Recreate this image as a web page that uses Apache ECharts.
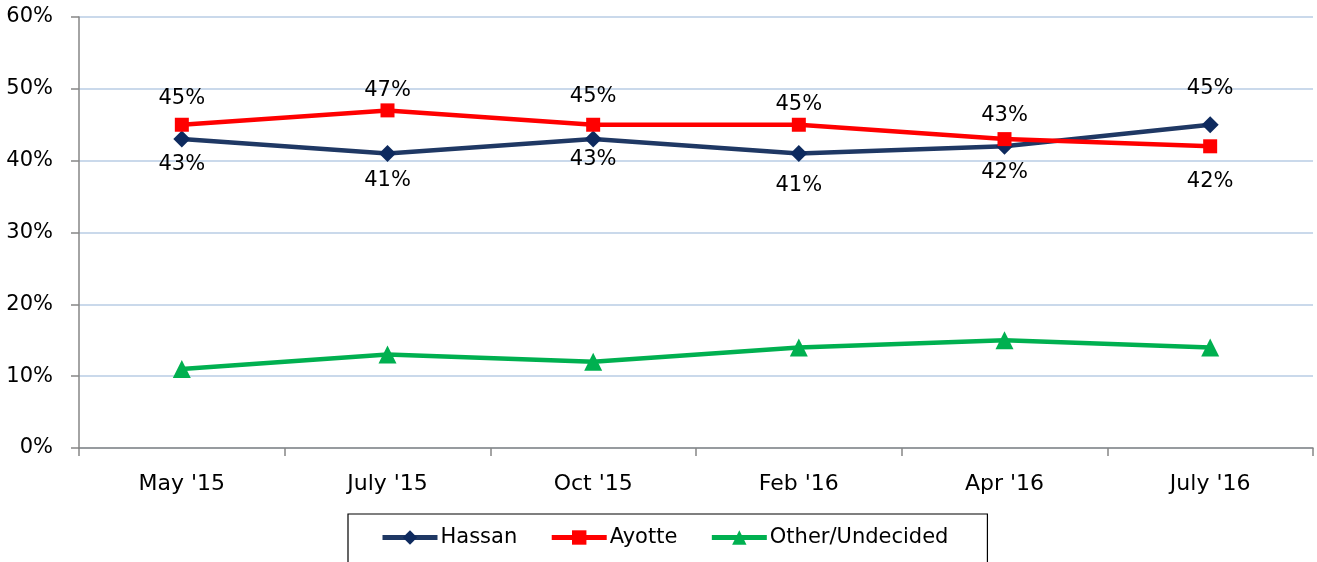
<!DOCTYPE html>
<html>
<head>
<meta charset="utf-8">
<script src="https://cdn.jsdelivr.net/npm/echarts@6/dist/echarts.min.js"></script>
<style>
  html, body { margin: 0; padding: 0; background: #fff; }
  #chart { width: 1317px; height: 562px; }
</style>
</head>
<body>
<div id="chart"></div>
<script>
// poll dates
const categories = ["May '15", "July '15", "Oct '15", "Feb '16", "Apr '16", "July '16"];

// values in percent
const hassan = [43, 41, 43, 41, 42, 45];
const ayotte = [45, 47, 45, 45, 43, 42];
const other = [11, 13, 12, 14, 15, 14];

const yTicks = [0, 10, 20, 30, 40, 50, 60];

const FONT = "DejaVu Sans";

// label placement per point (above/below) and gap from the marker
const hassanPos = ["bottom", "bottom", "bottom", "bottom", "bottom", "top"];
const hassanGap = [6, 8, 1, 13, 7, 17];
const ayottePos = ["top", "top", "top", "top", "top", "bottom"];
const ayotteGap = [9, 2, 11, 3, 6, 18];

const withLabels = (vals, pos, gap) =>
  vals.map((v, i) => ({
    value: v,
    label: { show: true, position: pos[i], distance: gap[i] },
  }));

const chart = echarts.init(document.getElementById("chart"));

chart.setOption({
  animation: false,
  textStyle: { fontFamily: FONT },
  grid: { left: 79, right: 4, top: 17, bottom: 114 },
  xAxis: {
    type: "category",
    data: categories,
    boundaryGap: true,
    axisLine: { lineStyle: { color: "#868686", width: 1.5 } },
    axisTick: { show: true, length: 8, lineStyle: { color: "#868686", width: 1.5 } },
    axisLabel: { color: "#000", fontSize: 22, margin: 25, fontFamily: FONT },
  },
  yAxis: {
    type: "value",
    min: yTicks[0],
    max: yTicks[yTicks.length - 1],
    interval: 10,
    axisLine: { show: true, lineStyle: { color: "#868686", width: 1.5 } },
    axisTick: { show: true, length: 8, lineStyle: { color: "#868686", width: 1.5 } },
    axisLabel: { color: "#000", fontSize: 21, margin: 26, fontFamily: FONT, formatter: "{value}%" },
    splitLine: { show: true, lineStyle: { color: "#b9cde5", width: 1.5 } },
  },
  legend: {
    left: 348,
    top: 514,
    padding: [13, 39, 30, 32],
    borderColor: "#000",
    borderWidth: 1.2,
    itemWidth: 55,
    itemHeight: 18,
    itemGap: 32,
    lineStyle: { width: 5 },
    textStyle: { color: "#000", fontSize: 21, fontFamily: FONT, padding: [0, 0, 0, -2] },
    data: ["Hassan", "Ayotte", "Other/Undecided"],
  },
  series: [
    {
      name: "Hassan",
      type: "line",
      data: withLabels(hassan, hassanPos, hassanGap),
      symbol: "diamond",
      symbolSize: 17,
      lineStyle: { color: "#1f3864", width: 4.5 },
      itemStyle: { color: "#0e2a5e" },
      label: { color: "#000", fontSize: 21, fontFamily: FONT, formatter: "{c}%" },
    },
    {
      name: "Ayotte",
      type: "line",
      data: withLabels(ayotte, ayottePos, ayotteGap),
      symbol: "rect",
      symbolSize: 14,
      lineStyle: { color: "#ff0000", width: 4.5 },
      itemStyle: { color: "#ff0000" },
      label: { color: "#000", fontSize: 21, fontFamily: FONT, formatter: "{c}%" },
    },
    {
      name: "Other/Undecided",
      type: "line",
      data: other,
      symbol: "triangle",
      symbolSize: 18,
      lineStyle: { color: "#00b050", width: 4.5 },
      itemStyle: { color: "#00b050" },
    },
  ],
});
</script>
</body>
</html>
